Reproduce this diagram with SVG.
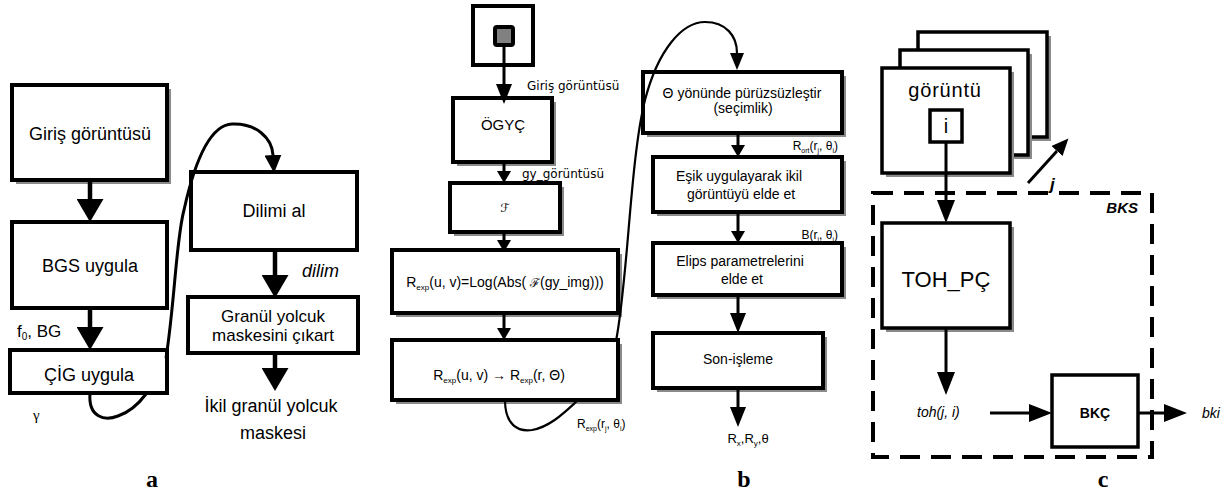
<svg xmlns="http://www.w3.org/2000/svg" width="1231" height="492" viewBox="0 0 1231 492">
<style>
.bx{fill:#fff;stroke:#000;stroke-width:4}
.bx3{fill:#fff;stroke:#000;stroke-width:3.5}
.sh{fill:#8a8a8a}
.ln{stroke:#000;stroke-width:4.5;fill:none}
.lb{stroke:#000;stroke-width:3;fill:none}
.cv{stroke:#000;stroke-width:3;fill:none}
.cvb{stroke:#000;stroke-width:2.2;fill:none}
.s{font-family:"Liberation Sans",Arial,sans-serif;fill:#000}
.d{font-family:"DejaVu Sans",sans-serif;fill:#000}
.m{text-anchor:middle}
.e{text-anchor:end}
.lab{font-family:"Liberation Serif","Times New Roman",serif;font-weight:bold;font-size:24px;text-anchor:middle}
</style>
<defs>
<marker id="ha" markerUnits="userSpaceOnUse" markerWidth="23" markerHeight="27" viewBox="0 0 23 27" refX="0" refY="13.5" orient="auto"><path d="M0,0 L23,13.5 L0,27 z"/></marker>
<marker id="hac" markerUnits="userSpaceOnUse" markerWidth="18" markerHeight="17" viewBox="0 0 18 17" refX="0" refY="8.5" orient="auto"><path d="M0,0 L18,8.5 L0,17 z"/></marker>
<marker id="hb" markerUnits="userSpaceOnUse" markerWidth="12" markerHeight="14" viewBox="0 0 12 14" refX="0" refY="7" orient="auto"><path d="M0,0 L12,7 L0,14 z"/></marker>
<marker id="hb2" markerUnits="userSpaceOnUse" markerWidth="20" markerHeight="16" viewBox="0 0 20 16" refX="0" refY="8" orient="auto"><path d="M0,0 L20,8 L0,16 z"/></marker>
<marker id="hbc" markerUnits="userSpaceOnUse" markerWidth="17" markerHeight="14" viewBox="0 0 17 14" refX="0" refY="7" orient="auto"><path d="M0,0 L17,7 L0,14 z"/></marker>
<marker id="hc" markerUnits="userSpaceOnUse" markerWidth="23" markerHeight="18" viewBox="0 0 23 18" refX="0" refY="9" orient="auto"><path d="M0,0 L23,9 L0,18 z"/></marker>
<marker id="hj" markerUnits="userSpaceOnUse" markerWidth="17" markerHeight="15" viewBox="0 0 17 15" refX="0" refY="7.5" orient="auto"><path d="M0,0 L17,7.5 L0,15 z"/></marker>
</defs>

<!-- Panel a -->
<g id="a-giris">
<rect class="sh" x="16" y="89" width="155" height="95"/>
<rect class="bx" x="12" y="85" width="155" height="95"/>
<text class="s m" x="90" y="140" font-size="18">Giriş görüntüsü</text>
</g>
<g id="a-bgs">
<rect class="bx" x="12" y="222" width="155" height="86"/>
<text class="s m" x="90" y="272" font-size="18">BGS uygula</text>
</g>
<g id="a-cig">
<rect class="bx" x="10" y="350" width="157" height="43"/>
<text class="s m" x="89" y="381" font-size="18">ÇİG uygula</text>
</g>
<g id="a-dilimi">
<rect class="bx" x="191" y="172" width="166" height="78"/>
<text class="s m" x="274" y="217" font-size="18">Dilimi al</text>
</g>
<g id="a-granul">
<rect class="bx" x="188" y="297" width="170" height="56"/>
<text class="s m" x="273" y="322" font-size="17">Granül yolcuk</text>
<text class="s m" x="273" y="341" font-size="17">maskesini çıkart</text>
</g>
<g id="a-out">
<text class="s m" x="271" y="412" font-size="18">İkil granül yolcuk</text>
<text class="s m" x="273" y="439" font-size="18">maskesi</text>
</g>
<g id="a-labels">
<text class="s" x="17" y="337" font-size="17">f<tspan font-size="10" dy="3">0</tspan><tspan dy="-3">, BG</tspan></text>
<text x="33" y="420" font-family="Liberation Serif,serif" font-size="15">γ</text>
<text class="s" x="302" y="277" font-size="18" font-style="italic">dilim</text>
</g>

<!-- Panel b -->
<g id="b-input">
<rect class="bx" x="473" y="6" width="60" height="59"/>
<rect x="495" y="27" width="18" height="18" rx="2" fill="#808080" stroke="#000" stroke-width="4"/>
</g>
<g id="b-ogyc">
<rect class="sh" x="457" y="102" width="99" height="64"/>
<rect class="bx" x="453" y="98" width="99" height="64"/>
<text class="s m" x="503" y="130" font-size="15">ÖGYÇ</text>
</g>
<g id="b-f">
<rect class="sh" x="454" y="187" width="110" height="49"/>
<rect class="bx" x="450" y="183" width="110" height="49"/>
<text class="m" x="505" y="212" font-family="DejaVu Serif,DejaVu Sans,serif" font-size="12">ℱ</text>
</g>
<g id="b-rexp">
<rect class="sh" x="396" y="254" width="226" height="63"/>
<rect class="bx" x="392" y="250" width="226" height="63"/>
<text class="s m" x="505" y="287" font-size="14">R<tspan font-size="8" dy="3">exp</tspan><tspan dy="-3">(u, v)=Log(Abs( </tspan><tspan font-family="DejaVu Serif,serif" font-size="12">ℱ</tspan>(gy_img)))</text>
</g>
<g id="b-polar">
<rect class="sh" x="396" y="344" width="226" height="60"/>
<rect class="bx" x="392" y="340" width="226" height="60"/>
<text class="s m" x="499" y="380" font-size="14">R<tspan font-size="8" dy="3">exp</tspan><tspan dy="-3">(u, v) → R</tspan><tspan font-size="8" dy="3">exp</tspan><tspan dy="-3">(r, Θ)</tspan></text>
</g>
<g id="b-smooth">
<rect class="sh" x="647" y="76" width="199" height="61"/>
<rect class="bx" x="643" y="72" width="199" height="61"/>
<text class="s m" x="742" y="98" font-size="14">Θ yönünde pürüzsüzleştir</text>
<text class="s m" x="743" y="113" font-size="14">(seçimlik)</text>
</g>
<g id="b-esik">
<rect class="sh" x="657" y="161" width="189" height="55"/>
<rect class="bx" x="653" y="157" width="189" height="55"/>
<text class="s m" x="739" y="181" font-size="14">Eşik uygulayarak ikil</text>
<text class="s m" x="741" y="199" font-size="14">görüntüyü elde et</text>
</g>
<g id="b-elips">
<rect class="sh" x="657" y="247" width="189" height="52"/>
<rect class="bx" x="653" y="243" width="189" height="52"/>
<text class="s m" x="740" y="266" font-size="14">Elips parametrelerini</text>
<text class="s m" x="742" y="284" font-size="14">elde et</text>
</g>
<g id="b-son">
<rect class="sh" x="657" y="337" width="170" height="55"/>
<rect class="bx" x="653" y="333" width="170" height="55"/>
<text class="s m" x="738" y="364" font-size="14">Son-işleme</text>
</g>
<g id="b-labels">
<text class="d" x="527" y="90" font-size="12">Giriş görüntüsü</text>
<text class="d" x="522" y="178" font-size="12">gy_görüntüsü</text>
<text class="s" x="577" y="428" font-size="12">R<tspan font-size="7" dy="3">exp</tspan><tspan dy="-3">(r</tspan><tspan font-size="7" dy="3">j</tspan><tspan dy="-3">, θ</tspan><tspan font-size="7" dy="3">i</tspan><tspan dy="-3">)</tspan></text>
<text class="s e" x="838" y="150" font-size="12">R<tspan font-size="7" dy="3">ort</tspan><tspan dy="-3">(r</tspan><tspan font-size="7" dy="3">j</tspan><tspan dy="-3">, θ</tspan><tspan font-size="7" dy="3">i</tspan><tspan dy="-3">)</tspan></text>
<text class="s e" x="838" y="239" font-size="12">B(r<tspan font-size="7" dy="3">i</tspan><tspan dy="-3">, θ</tspan><tspan font-size="7" dy="3">j</tspan><tspan dy="-3">)</tspan></text>
<text class="s m" x="748" y="443" font-size="13">R<tspan font-size="8" dy="3">x</tspan><tspan dy="-3">,R</tspan><tspan font-size="8" dy="3">y</tspan><tspan dy="-3">,θ</tspan></text>
</g>

<!-- Panel c -->
<g id="c-pages">
<rect class="sh" x="922" y="36" width="129" height="105"/>
<rect class="bx3" x="918" y="32" width="129" height="105"/>
<rect class="sh" x="904" y="54" width="128" height="105"/>
<rect class="bx3" x="900" y="50" width="128" height="105"/>
<rect class="sh" x="886" y="72" width="128" height="105"/>
<rect class="bx3" x="882" y="68" width="128" height="105"/>
<text class="s m" x="945" y="97" font-size="20" letter-spacing="0.8">görüntü</text>
</g>
<g id="c-i">
<rect class="bx3" x="930" y="110" width="32" height="32"/>
<text class="s m" x="946" y="133" font-size="20">i</text>
</g>
<g id="c-bks">
<rect x="873" y="193" width="279" height="264" fill="none" stroke="#000" stroke-width="4" stroke-dasharray="20 11"/>
<text class="s e" x="1138" y="213" font-size="15" font-weight="bold" font-style="italic">BKS</text>
</g>
<g id="c-toh">
<rect class="sh" x="886" y="227" width="128" height="105"/>
<rect class="bx3" x="882" y="223" width="128" height="105"/>
<text class="s m" x="946" y="287" font-size="22">TOH_PÇ</text>
</g>
<g id="c-bkc">
<rect class="bx3" x="1052" y="375" width="86" height="72"/>
<text class="s m" x="1095" y="418" font-size="14" font-weight="bold">BKÇ</text>
</g>
<g id="c-labels">
<text class="s" x="1050" y="190" font-size="17" font-weight="bold" font-style="italic">j</text>
<text class="s" x="917" y="417" font-size="14" font-style="italic">toh(j, i)</text>
<text class="s" x="1202" y="418" font-size="14" font-style="italic">bki</text>
</g>

<!-- Connectors -->
<g id="connectors">
<line class="ln" x1="90" y1="180" x2="90" y2="199" marker-end="url(#ha)"/>
<line class="ln" x1="90" y1="308" x2="90" y2="327" marker-end="url(#ha)"/>
<path class="cv" d="M90 393 C88 418 105 421 118 416 C130 412 140 402 146 394"/>
<path class="cv" d="M166 358 C175 300 176 240 184 210 C195 160 210 125 232 124 C256 123 272 138 273 155" marker-end="url(#hac)"/>
<line class="ln" x1="275" y1="250" x2="275" y2="275" marker-end="url(#ha)"/>
<line class="ln" x1="275" y1="353" x2="275" y2="368" marker-end="url(#ha)"/>

<line class="lb" x1="504" y1="45" x2="504" y2="84" marker-end="url(#hb2)"/>
<line class="lb" x1="504" y1="162" x2="504" y2="171" marker-end="url(#hb)"/>
<line class="lb" x1="504" y1="232" x2="504" y2="240" marker-end="url(#hb)"/>
<line class="lb" x1="504" y1="313" x2="504" y2="328" marker-end="url(#hb)"/>
<path class="cvb" d="M505 400 C505 425 518 432 532 430 C550 427 565 412 577 401"/>
<path class="cvb" d="M616 341 C628 280 630 160 645 100 C658 50 682 22 705 22 C726 22 737 36 737 53" marker-end="url(#hbc)"/>
<line class="lb" x1="738" y1="133" x2="738" y2="145" marker-end="url(#hb)"/>
<line class="lb" x1="738" y1="212" x2="738" y2="231" marker-end="url(#hb)"/>
<line class="lb" x1="738" y1="295" x2="738" y2="313" marker-end="url(#hb2)"/>
<line class="lb" x1="738" y1="388" x2="738" y2="407" marker-end="url(#hb2)"/>

<line class="lb" x1="946" y1="142" x2="946" y2="200" marker-end="url(#hc)"/>
<line class="lb" x1="1028" y1="183" x2="1057" y2="151" marker-end="url(#hj)"/>
<line class="lb" x1="946" y1="328" x2="946" y2="372" marker-end="url(#hc)"/>
<line class="lb" x1="990" y1="413" x2="1029" y2="413" marker-end="url(#hc)"/>
<line class="lb" x1="1138" y1="413" x2="1164" y2="413" marker-end="url(#hc)"/>
</g>

<g id="panel-labels">
<text class="lab" x="152" y="487">a</text>
<text class="lab" x="744" y="487">b</text>
<text class="lab" x="1103" y="487">c</text>
</g>
</svg>
